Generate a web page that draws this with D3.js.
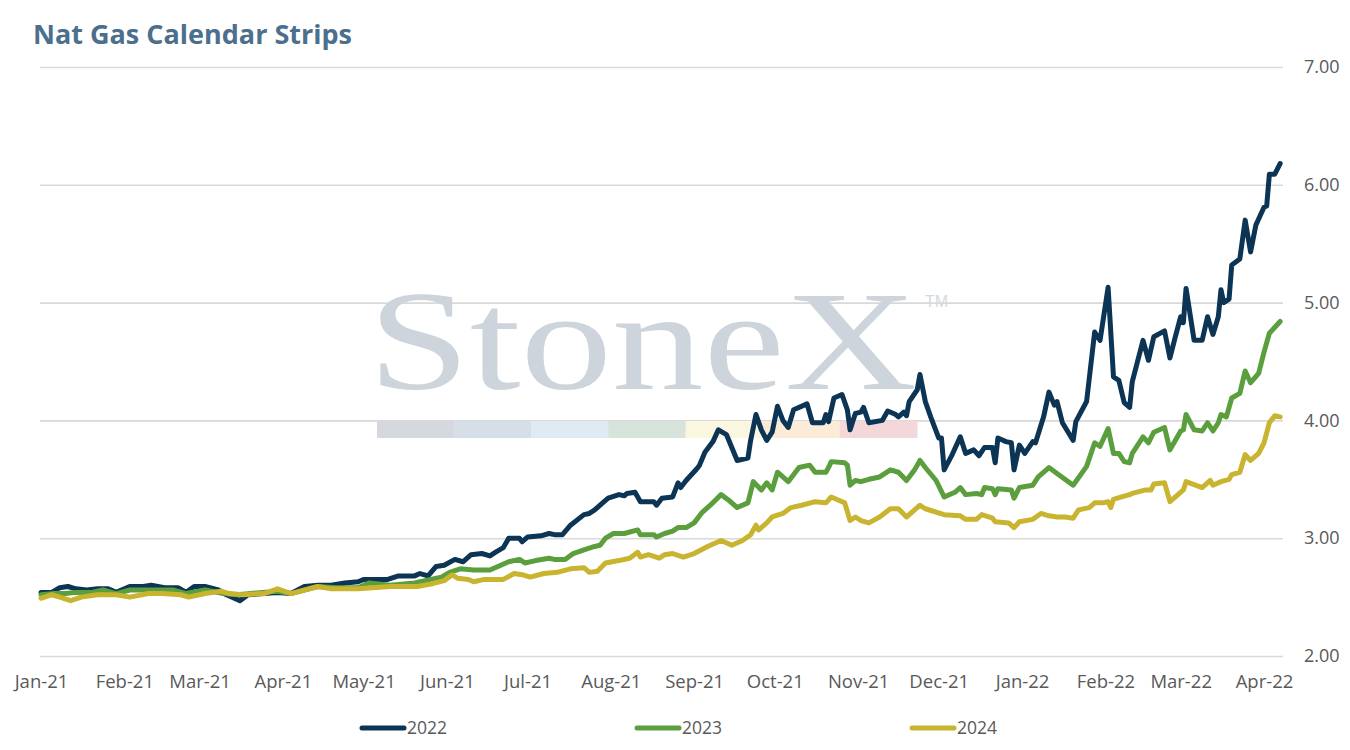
<!DOCTYPE html>
<html>
<head>
<meta charset="utf-8">
<title>Nat Gas Calendar Strips</title>
<script src="https://cdn.jsdelivr.net/npm/d3@7"></script>
<style>
  body { margin: 0; background: #fff; }
  svg { display: block; }
</style>
</head>
<body>
<svg width="1350" height="750" id="mainsvg"></svg>
<script>
// values, [date, price]
const s2022 = [["2021-01-01",2.54],["2021-01-05",2.54],["2021-01-08",2.58],["2021-01-11",2.59],["2021-01-14",2.57],["2021-01-18",2.56],["2021-01-22",2.57],["2021-01-26",2.57],["2021-01-29",2.54],["2021-02-03",2.59],["2021-02-08",2.59],["2021-02-11",2.60],["2021-02-16",2.58],["2021-02-21",2.58],["2021-02-24",2.54],["2021-02-27",2.59],["2021-03-03",2.59],["2021-03-08",2.56],["2021-03-11",2.52],["2021-03-16",2.47],["2021-03-19",2.52],["2021-03-25",2.53],["2021-03-30",2.54],["2021-04-04",2.53],["2021-04-09",2.59],["2021-04-14",2.60],["2021-04-19",2.60],["2021-04-24",2.62],["2021-04-29",2.63],["2021-05-01",2.65],["2021-05-06",2.65],["2021-05-10",2.65],["2021-05-14",2.68],["2021-05-20",2.68],["2021-05-22",2.70],["2021-05-25",2.68],["2021-05-28",2.76],["2021-05-31",2.77],["2021-06-04",2.82],["2021-06-07",2.80],["2021-06-10",2.86],["2021-06-14",2.87],["2021-06-17",2.85],["2021-06-19",2.88],["2021-06-22",2.92],["2021-06-24",3.00],["2021-06-28",3.00],["2021-06-29",2.97],["2021-07-01",3.01],["2021-07-06",3.02],["2021-07-09",3.04],["2021-07-11",3.03],["2021-07-14",3.03],["2021-07-17",3.11],["2021-07-22",3.20],["2021-07-24",3.21],["2021-07-26",3.24],["2021-07-28",3.28],["2021-07-31",3.34],["2021-08-04",3.37],["2021-08-06",3.36],["2021-08-07",3.38],["2021-08-10",3.39],["2021-08-12",3.31],["2021-08-14",3.31],["2021-08-17",3.31],["2021-08-18",3.28],["2021-08-20",3.34],["2021-08-24",3.35],["2021-08-26",3.47],["2021-08-27",3.43],["2021-08-29",3.49],["2021-09-02",3.59],["2021-09-03",3.62],["2021-09-05",3.73],["2021-09-08",3.82],["2021-09-10",3.92],["2021-09-13",3.88],["2021-09-17",3.66],["2021-09-21",3.68],["2021-09-22",3.83],["2021-09-24",4.05],["2021-09-26",3.92],["2021-09-28",3.83],["2021-09-30",3.90],["2021-10-02",4.12],["2021-10-04",4.00],["2021-10-06",3.94],["2021-10-08",4.09],["2021-10-13",4.14],["2021-10-15",3.98],["2021-10-19",3.98],["2021-10-20",4.05],["2021-10-21",3.99],["2021-10-23",4.19],["2021-10-26",4.22],["2021-10-28",4.09],["2021-10-29",3.92],["2021-10-31",4.06],["2021-11-02",4.07],["2021-11-03",4.11],["2021-11-05",3.98],["2021-11-10",4.00],["2021-11-12",4.08],["2021-11-15",4.05],["2021-11-16",4.03],["2021-11-18",4.07],["2021-11-19",4.04],["2021-11-20",4.16],["2021-11-23",4.26],["2021-11-24",4.39],["2021-11-26",4.16],["2021-11-28",4.03],["2021-12-01",3.85],["2021-12-02",3.85],["2021-12-03",3.58],["2021-12-06",3.71],["2021-12-09",3.86],["2021-12-11",3.72],["2021-12-14",3.75],["2021-12-16",3.70],["2021-12-18",3.77],["2021-12-21",3.77],["2021-12-22",3.64],["2021-12-23",3.85],["2021-12-26",3.82],["2021-12-28",3.81],["2021-12-29",3.58],["2021-12-31",3.79],["2022-01-02",3.72],["2022-01-05",3.82],["2022-01-06",3.81],["2022-01-09",4.03],["2022-01-11",4.24],["2022-01-13",4.13],["2022-01-14",4.16],["2022-01-16",3.98],["2022-01-20",3.83],["2022-01-21",3.99],["2022-01-25",4.16],["2022-01-28",4.75],["2022-01-30",4.68],["2022-02-02",5.13],["2022-02-04",4.37],["2022-02-06",4.34],["2022-02-08",4.15],["2022-02-10",4.11],["2022-02-11",4.33],["2022-02-15",4.68],["2022-02-17",4.51],["2022-02-19",4.71],["2022-02-23",4.76],["2022-02-25",4.53],["2022-02-27",4.71],["2022-03-01",4.88],["2022-03-02",4.83],["2022-03-03",5.12],["2022-03-06",4.68],["2022-03-09",4.68],["2022-03-11",4.88],["2022-03-13",4.73],["2022-03-15",4.88],["2022-03-16",5.11],["2022-03-17",5.00],["2022-03-19",5.03],["2022-03-20",5.32],["2022-03-23",5.37],["2022-03-25",5.70],["2022-03-27",5.43],["2022-03-29",5.66],["2022-03-30",5.71],["2022-04-01",5.81],["2022-04-02",5.82],["2022-04-03",6.09],["2022-04-05",6.09],["2022-04-07",6.18]];

const s2023 = [["2021-01-01",2.52],["2021-01-06",2.53],["2021-01-10",2.53],["2021-01-14",2.54],["2021-01-20",2.54],["2021-01-24",2.56],["2021-01-29",2.53],["2021-02-03",2.56],["2021-02-11",2.56],["2021-02-19",2.56],["2021-02-24",2.53],["2021-03-03",2.56],["2021-03-10",2.53],["2021-03-15",2.52],["2021-03-20",2.53],["2021-03-30",2.55],["2021-04-04",2.53],["2021-04-14",2.59],["2021-04-21",2.58],["2021-04-29",2.58],["2021-05-03",2.62],["2021-05-11",2.60],["2021-05-20",2.62],["2021-05-26",2.65],["2021-05-30",2.67],["2021-06-02",2.71],["2021-06-06",2.74],["2021-06-11",2.73],["2021-06-17",2.73],["2021-06-20",2.76],["2021-06-24",2.80],["2021-06-28",2.82],["2021-06-30",2.79],["2021-07-04",2.81],["2021-07-09",2.83],["2021-07-11",2.82],["2021-07-15",2.82],["2021-07-18",2.87],["2021-07-22",2.90],["2021-07-26",2.93],["2021-07-28",2.94],["2021-07-30",3.00],["2021-08-02",3.04],["2021-08-06",3.04],["2021-08-11",3.07],["2021-08-12",3.03],["2021-08-17",3.03],["2021-08-18",3.01],["2021-08-21",3.04],["2021-08-24",3.06],["2021-08-26",3.09],["2021-08-29",3.09],["2021-09-01",3.13],["2021-09-04",3.22],["2021-09-07",3.28],["2021-09-11",3.37],["2021-09-14",3.32],["2021-09-17",3.26],["2021-09-21",3.30],["2021-09-23",3.48],["2021-09-26",3.41],["2021-09-28",3.47],["2021-09-30",3.41],["2021-10-02",3.56],["2021-10-06",3.48],["2021-10-10",3.60],["2021-10-14",3.62],["2021-10-16",3.56],["2021-10-20",3.56],["2021-10-21",3.60],["2021-10-22",3.65],["2021-10-27",3.64],["2021-10-28",3.62],["2021-10-29",3.45],["2021-10-31",3.49],["2021-11-02",3.48],["2021-11-05",3.50],["2021-11-09",3.52],["2021-11-13",3.58],["2021-11-16",3.56],["2021-11-19",3.49],["2021-11-22",3.58],["2021-11-24",3.66],["2021-11-26",3.60],["2021-11-30",3.49],["2021-12-03",3.35],["2021-12-07",3.39],["2021-12-09",3.43],["2021-12-11",3.37],["2021-12-15",3.38],["2021-12-17",3.37],["2021-12-18",3.43],["2021-12-21",3.42],["2021-12-22",3.37],["2021-12-23",3.42],["2021-12-28",3.41],["2021-12-29",3.34],["2021-12-31",3.43],["2022-01-05",3.45],["2022-01-07",3.52],["2022-01-11",3.60],["2022-01-14",3.55],["2022-01-20",3.45],["2022-01-25",3.61],["2022-01-28",3.81],["2022-01-30",3.78],["2022-02-02",3.93],["2022-02-04",3.72],["2022-02-06",3.72],["2022-02-08",3.65],["2022-02-10",3.64],["2022-02-11",3.72],["2022-02-15",3.86],["2022-02-17",3.81],["2022-02-19",3.90],["2022-02-23",3.94],["2022-02-25",3.75],["2022-02-27",3.83],["2022-03-01",3.91],["2022-03-02",3.92],["2022-03-03",4.05],["2022-03-06",3.92],["2022-03-09",3.91],["2022-03-11",3.98],["2022-03-13",3.91],["2022-03-15",3.98],["2022-03-16",4.05],["2022-03-18",4.03],["2022-03-20",4.19],["2022-03-23",4.23],["2022-03-25",4.42],["2022-03-27",4.32],["2022-03-30",4.40],["2022-04-01",4.58],["2022-04-03",4.74],["2022-04-07",4.84]];

const s2024 = [["2021-01-01",2.49],["2021-01-05",2.52],["2021-01-08",2.50],["2021-01-12",2.47],["2021-01-16",2.50],["2021-01-22",2.52],["2021-01-29",2.52],["2021-02-03",2.50],["2021-02-10",2.53],["2021-02-15",2.53],["2021-02-22",2.52],["2021-02-25",2.50],["2021-03-03",2.53],["2021-03-09",2.55],["2021-03-12",2.53],["2021-03-17",2.52],["2021-03-25",2.53],["2021-03-30",2.57],["2021-04-04",2.53],["2021-04-14",2.59],["2021-04-19",2.57],["2021-04-29",2.57],["2021-05-11",2.59],["2021-05-21",2.59],["2021-05-26",2.61],["2021-05-31",2.64],["2021-06-03",2.69],["2021-06-05",2.66],["2021-06-09",2.65],["2021-06-11",2.63],["2021-06-15",2.65],["2021-06-22",2.65],["2021-06-26",2.70],["2021-06-29",2.69],["2021-07-02",2.67],["2021-07-07",2.70],["2021-07-12",2.71],["2021-07-17",2.74],["2021-07-22",2.75],["2021-07-24",2.71],["2021-07-27",2.72],["2021-07-30",2.79],["2021-08-04",2.81],["2021-08-08",2.83],["2021-08-11",2.88],["2021-08-12",2.84],["2021-08-15",2.86],["2021-08-19",2.83],["2021-08-21",2.86],["2021-08-24",2.87],["2021-08-28",2.84],["2021-09-01",2.87],["2021-09-06",2.93],["2021-09-11",2.98],["2021-09-15",2.94],["2021-09-19",2.98],["2021-09-22",3.03],["2021-09-24",3.11],["2021-09-25",3.07],["2021-09-28",3.13],["2021-09-30",3.18],["2021-10-04",3.21],["2021-10-07",3.26],["2021-10-11",3.28],["2021-10-16",3.31],["2021-10-20",3.30],["2021-10-22",3.35],["2021-10-25",3.32],["2021-10-27",3.30],["2021-10-29",3.15],["2021-10-31",3.18],["2021-11-02",3.15],["2021-11-05",3.13],["2021-11-09",3.18],["2021-11-13",3.25],["2021-11-16",3.25],["2021-11-19",3.18],["2021-11-22",3.24],["2021-11-24",3.28],["2021-11-26",3.25],["2021-12-03",3.20],["2021-12-09",3.19],["2021-12-11",3.16],["2021-12-15",3.16],["2021-12-17",3.20],["2021-12-21",3.17],["2021-12-22",3.14],["2021-12-27",3.13],["2021-12-29",3.09],["2021-12-31",3.14],["2022-01-05",3.16],["2022-01-08",3.21],["2022-01-11",3.19],["2022-01-14",3.18],["2022-01-17",3.18],["2022-01-20",3.17],["2022-01-22",3.24],["2022-01-26",3.26],["2022-01-28",3.30],["2022-01-31",3.30],["2022-02-02",3.31],["2022-02-03",3.26],["2022-02-04",3.33],["2022-02-07",3.35],["2022-02-10",3.37],["2022-02-11",3.38],["2022-02-16",3.41],["2022-02-18",3.41],["2022-02-19",3.46],["2022-02-23",3.47],["2022-02-25",3.31],["2022-02-28",3.37],["2022-03-02",3.41],["2022-03-03",3.48],["2022-03-09",3.43],["2022-03-12",3.49],["2022-03-13",3.45],["2022-03-16",3.48],["2022-03-19",3.50],["2022-03-20",3.54],["2022-03-23",3.56],["2022-03-25",3.71],["2022-03-27",3.66],["2022-03-30",3.72],["2022-04-01",3.81],["2022-04-03",3.98],["2022-04-05",4.04],["2022-04-07",4.03]];

const seriesNames = ["2022", "2023", "2024"];
const seriesColors = ["#0c3455", "#5b9e3d", "#c8b42f"];
const yTicks = [2, 3, 4, 5, 6, 7];
const monthTicks = ["2021-01-01","2021-02-01","2021-03-01","2021-04-01","2021-05-01","2021-06-01","2021-07-01","2021-08-01","2021-09-01","2021-10-01","2021-11-01","2021-12-01","2022-01-01","2022-02-01","2022-03-01","2022-04-01"];
const stripeColors = ["#d5d9df","#d6dee8","#dfeaf3","#d7e4dc","#faf6e0","#fbecd7","#f3d7d9"];

const svg = d3.select('svg');
const parse = d3.timeParse("%Y-%m-%d");
const font = "'Open Sans', 'Noto Sans', sans-serif";

const x = d3.scaleTime()
  .domain([parse("2021-01-01"), parse("2022-04-01")])
  .range([41, 1264]);
const y = d3.scaleLinear().domain([2, 7]).range([656, 67]);

// title
svg.append('text')
  .attr('x', 33).attr('y', 44)
  .attr('font-family', font).attr('font-weight', 700)
  .attr('font-size', 27).attr('fill', '#4b6f8c')
  .text('Nat Gas Calendar Strips');

// grid lines
svg.append('g')
  .attr('transform', 'translate(1283,0)')
  .call(d3.axisLeft(y).tickValues(yTicks).tickSize(1243).tickFormat(''))
  .call(g => g.select('.domain').remove())
  .call(g => g.selectAll('line').attr('stroke', '#d9d9d9').attr('stroke-width', 1.6));

// watermark
const wm = svg.append('g');
wm.append('text')
  .attr('x', 368).attr('y', 389)
  .attr('font-family', "'Liberation Serif', 'DejaVu Serif', serif")
  .attr('font-size', 142).attr('fill', '#cdd4dc')
  .attr('textLength', 549).attr('lengthAdjust', 'spacingAndGlyphs')
  .text('StoneX');
wm.append('text')
  .attr('x', 925).attr('y', 307)
  .attr('font-family', "'Liberation Sans', sans-serif")
  .attr('font-size', 16).attr('fill', '#d3d9df')
  .text('TM');
const stripe = d3.scaleBand().domain(d3.range(stripeColors.length)).range([377, 917]);
wm.selectAll('rect').data(stripeColors).join('rect')
  .attr('x', (d, i) => stripe(i)).attr('y', 421)
  .attr('width', stripe.bandwidth() + 0.5).attr('height', 17)
  .attr('fill', d => d);

// y labels
svg.append('g')
  .attr('transform', 'translate(1283,0)')
  .call(d3.axisRight(y).tickValues(yTicks).tickSize(0).tickPadding(21).tickFormat(d3.format('.2f')))
  .call(g => g.select('.domain').remove())
  .call(g => g.selectAll('text').attr('font-family', font).attr('font-size', 18).attr('fill', '#595959'));

// x labels
svg.append('g')
  .attr('transform', 'translate(0,656)')
  .call(d3.axisBottom(x).tickValues(monthTicks.map(parse)).tickSize(0).tickPadding(19).tickFormat(d3.timeFormat('%b-%y')))
  .call(g => g.select('.domain').remove())
  .call(g => g.selectAll('text').attr('font-family', font).attr('font-size', 18.5).attr('fill', '#595959'));

// lines
const line = d3.line().x(d => x(parse(d[0]))).y(d => y(d[1]));
[s2022, s2023, s2024].forEach((s, i) => {
  svg.append('path')
    .datum(s)
    .attr('fill', 'none')
    .attr('stroke', seriesColors[i])
    .attr('stroke-width', 5)
    .attr('stroke-linejoin', 'round')
    .attr('stroke-linecap', 'round')
    .attr('d', line);
});

// legend
const legendX = d3.scalePoint().domain(seriesNames).range([362, 912]);
const lg = svg.append('g').selectAll('g').data(seriesNames).join('g')
  .attr('transform', d => `translate(${legendX(d)},728)`);
lg.append('line')
  .attr('x1', 0).attr('x2', 42)
  .attr('stroke', (d, i) => seriesColors[i]).attr('stroke-width', 5)
  .attr('stroke-linecap', 'round');
lg.append('text')
  .attr('x', 45).attr('dy', '0.35em')
  .attr('font-family', font).attr('font-size', 17.5).attr('fill', '#595959')
  .text(d => d);
</script>
</body>
</html>
